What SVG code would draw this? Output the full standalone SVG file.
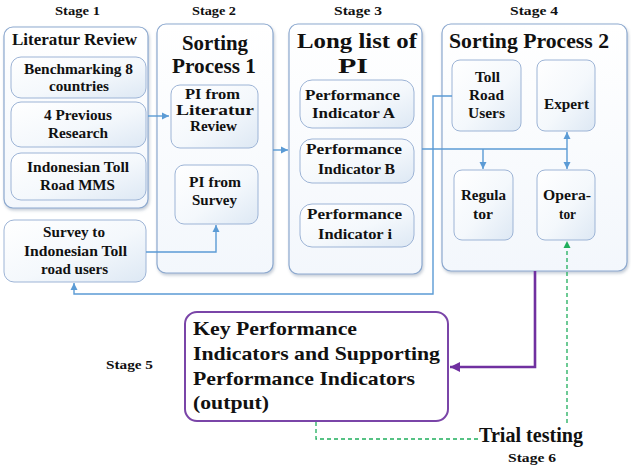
<svg xmlns="http://www.w3.org/2000/svg" width="631" height="466" viewBox="0 0 631 466">
<defs>
<linearGradient id="gOuter" x1="0" y1="0" x2="0" y2="1">
<stop offset="0" stop-color="#ffffff"/><stop offset="1" stop-color="#f3f7fc"/>
</linearGradient>
<linearGradient id="gInner" x1="0" y1="0" x2="1" y2="1">
<stop offset="0" stop-color="#ffffff"/><stop offset="0.55" stop-color="#f4f8fc"/><stop offset="1" stop-color="#dde8f4"/>
</linearGradient>
<filter id="sh" x="-5%" y="-5%" width="115%" height="115%">
<feDropShadow dx="1" dy="2" stdDeviation="1.5" flood-color="#7f8fa6" flood-opacity="0.45"/>
</filter>
<marker id="aB" markerWidth="8" markerHeight="8" refX="7" refY="4" orient="auto" markerUnits="userSpaceOnUse">
<path d="M0,0.5 L7,4 L0,7.5 z" fill="#5b9bd5"/>
</marker>
<marker id="aBs" markerWidth="8" markerHeight="8" refX="1" refY="4" orient="auto" markerUnits="userSpaceOnUse">
<path d="M8,0.5 L1,4 L8,7.5 z" fill="#5b9bd5"/>
</marker>
<marker id="aP" markerWidth="12" markerHeight="12" refX="10" refY="6" orient="auto" markerUnits="userSpaceOnUse">
<path d="M0,1 L10,6 L0,11 z" fill="#7030a0"/>
</marker>
<marker id="aG" markerWidth="8" markerHeight="8" refX="7" refY="4" orient="auto" markerUnits="userSpaceOnUse">
<path d="M0,0.5 L7,4 L0,7.5 z" fill="#1fae5c"/>
</marker>
</defs>
<style>
.outer{fill:url(#gOuter);stroke:#8da9cf;stroke-width:1.2;filter:url(#sh)}
.inner{fill:url(#gInner);stroke:#9db4d6;stroke-width:1}
.st{font-size:12px}
.t14{font-size:14px}
.t16{font-size:16px}
.title{font-size:21px}
.kpi{font-size:19px}
.conn{fill:none;stroke:#5b9bd5;stroke-width:1.4}
.pur{fill:none;stroke:#7030a0;stroke-width:2.6}
.grn{fill:none;stroke:#1fae5c;stroke-width:1.3;stroke-dasharray:4 3}
</style>
<rect width="631" height="466" fill="#ffffff"/>
<g font-family="Liberation Serif, Times New Roman, serif" font-weight="bold" fill="#111111">
<g id="labels">
<text class="st" x="55" y="15" textLength="45" lengthAdjust="spacingAndGlyphs">Stage 1</text>
<text class="st" x="192" y="15" textLength="44" lengthAdjust="spacingAndGlyphs">Stage 2</text>
<text class="st" x="334" y="15" textLength="48" lengthAdjust="spacingAndGlyphs">Stage 3</text>
<text class="st" x="510" y="15" textLength="48" lengthAdjust="spacingAndGlyphs">Stage 4</text>
<text class="st" x="106" y="369" textLength="47" lengthAdjust="spacingAndGlyphs">Stage 5</text>
<text class="st" x="508" y="462" textLength="48" lengthAdjust="spacingAndGlyphs">Stage 6</text>
</g>

<g id="stage1">
<rect class="outer" x="4" y="27" width="144" height="181" rx="9"/>
<text class="t16" x="12" y="45" textLength="125" lengthAdjust="spacingAndGlyphs">Literatur Review</text>
</g>
<g id="benchmarking">
<rect class="inner" x="11" y="57" width="135" height="41" rx="10"/>
<text class="t14" x="24" y="74" textLength="109" lengthAdjust="spacingAndGlyphs">Benchmarking 8</text>
<text class="t14" x="49" y="91" textLength="60" lengthAdjust="spacingAndGlyphs">countries</text>
</g>
<g id="previous">
<rect class="inner" x="11" y="102" width="135" height="45" rx="10"/>
<text class="t14" x="44" y="120" textLength="68" lengthAdjust="spacingAndGlyphs">4 Previous</text>
<text class="t14" x="48" y="138" textLength="60" lengthAdjust="spacingAndGlyphs">Research</text>
</g>
<g id="mms">
<rect class="inner" x="11" y="153" width="135" height="47" rx="10"/>
<text class="t14" x="27" y="172" textLength="102" lengthAdjust="spacingAndGlyphs">Indonesian Toll</text>
<text class="t14" x="40" y="190" textLength="75" lengthAdjust="spacingAndGlyphs">Road MMS</text>
</g>
<g id="survey">
<rect class="inner" x="4" y="220" width="142" height="62" rx="10"/>
<text class="t14" x="43" y="237" textLength="62" lengthAdjust="spacingAndGlyphs">Survey to</text>
<text class="t14" x="24" y="256" textLength="103" lengthAdjust="spacingAndGlyphs">Indonesian Toll</text>
<text class="t14" x="41" y="274" textLength="67" lengthAdjust="spacingAndGlyphs">road users</text>
</g>

<g id="stage2">
<rect class="outer" x="157" y="24" width="116" height="249" rx="9"/>
<text class="title" x="182" y="50" textLength="66" lengthAdjust="spacingAndGlyphs">Sorting</text>
<text class="title" x="172" y="73" textLength="84" lengthAdjust="spacingAndGlyphs">Process 1</text>
</g>
<g id="pi-lit">
<rect class="inner" x="171" y="85" width="87" height="63" rx="9"/>
<text class="t14" x="185" y="99" textLength="55" lengthAdjust="spacingAndGlyphs">PI from</text>
<text class="t14" x="176" y="115" textLength="78" lengthAdjust="spacingAndGlyphs">Literatur</text>
<text class="t14" x="190" y="131" textLength="47" lengthAdjust="spacingAndGlyphs">Review</text>
</g>
<g id="pi-survey">
<rect class="inner" x="175" y="165" width="83" height="59" rx="9"/>
<text class="t14" x="189" y="187" textLength="52" lengthAdjust="spacingAndGlyphs">PI from</text>
<text class="t14" x="192" y="205" textLength="45" lengthAdjust="spacingAndGlyphs">Survey</text>
</g>

<g id="stage3">
<rect class="outer" x="289" y="24" width="133" height="250" rx="9"/>
<text class="title" x="297" y="48" textLength="120" lengthAdjust="spacingAndGlyphs">Long list of</text>
<text class="title" x="338" y="73" textLength="30" lengthAdjust="spacingAndGlyphs">PI</text>
</g>
<g id="pi-a">
<rect class="inner" x="300" y="80" width="114" height="48" rx="12"/>
<text class="t14" x="305" y="100" textLength="95" lengthAdjust="spacingAndGlyphs">Performance</text>
<text class="t14" x="312" y="118" textLength="83" lengthAdjust="spacingAndGlyphs">Indicator A</text>
</g>
<g id="pi-b">
<rect class="inner" x="300" y="139" width="114" height="44" rx="12"/>
<text class="t14" x="306" y="154" textLength="96" lengthAdjust="spacingAndGlyphs">Performance</text>
<text class="t14" x="318" y="174" textLength="77" lengthAdjust="spacingAndGlyphs">Indicator B</text>
</g>
<g id="pi-i">
<rect class="inner" x="300" y="204" width="114" height="43" rx="12"/>
<text class="t14" x="307" y="219" textLength="95" lengthAdjust="spacingAndGlyphs">Performance</text>
<text class="t14" x="318" y="239" textLength="74" lengthAdjust="spacingAndGlyphs">Indicator i</text>
</g>

<g id="stage4">
<rect class="outer" x="442" y="24" width="185" height="247" rx="9"/>
<text class="title" x="449" y="48" textLength="160" lengthAdjust="spacingAndGlyphs">Sorting Process 2</text>
</g>
<g id="toll-users">
<rect class="inner" x="452" y="60" width="69" height="71" rx="8"/>
<text class="t14" x="475" y="82" textLength="25" lengthAdjust="spacingAndGlyphs">Toll</text>
<text class="t14" x="469" y="100" textLength="35" lengthAdjust="spacingAndGlyphs">Road</text>
<text class="t14" x="468" y="118" textLength="37" lengthAdjust="spacingAndGlyphs">Users</text>
</g>
<g id="expert">
<rect class="inner" x="537" y="60" width="58" height="71" rx="8"/>
<text class="t14" x="544" y="109" textLength="45" lengthAdjust="spacingAndGlyphs">Expert</text>
</g>
<g id="regulator">
<rect class="inner" x="454" y="170" width="59" height="70" rx="8"/>
<text class="t14" x="461" y="200" textLength="45" lengthAdjust="spacingAndGlyphs">Regula</text>
<text class="t14" x="473" y="219" textLength="20" lengthAdjust="spacingAndGlyphs">tor</text>
</g>
<g id="operator">
<rect class="inner" x="537" y="170" width="58" height="70" rx="8"/>
<text class="t14" x="543" y="200" textLength="48" lengthAdjust="spacingAndGlyphs">Opera-</text>
<text class="t14" x="559" y="219" textLength="17" lengthAdjust="spacingAndGlyphs">tor</text>
</g>

<g id="kpi">
<rect x="185" y="312" width="263" height="109" rx="12" fill="#ffffff" stroke="#7a45a8" stroke-width="2"/>
<text class="kpi" x="193" y="335" textLength="164" lengthAdjust="spacingAndGlyphs">Key Performance</text>
<text class="kpi" x="193" y="360" textLength="247" lengthAdjust="spacingAndGlyphs">Indicators and Supporting</text>
<text class="kpi" x="193" y="385" textLength="222" lengthAdjust="spacingAndGlyphs">Performance Indicators</text>
<text class="kpi" x="193" y="409" textLength="76" lengthAdjust="spacingAndGlyphs">(output)</text>
</g>

<g id="trial">
<text x="479" y="442" font-size="20" textLength="104" lengthAdjust="spacingAndGlyphs">Trial testing</text>
</g>
</g>

<g id="connectors">
<path class="conn" d="M148,116 H169" marker-end="url(#aB)"/>
<path class="conn" d="M146,252 H216 V225" marker-end="url(#aB)"/>
<path class="conn" d="M273,150 H288" marker-end="url(#aB)"/>
<path class="conn" d="M422,149 H567"/>
<path class="conn" d="M483,149 V169" marker-end="url(#aB)"/>
<path class="conn" d="M567,132 V169" marker-start="url(#aBs)" marker-end="url(#aB)"/>
<path class="conn" d="M452,96 H433 V294 H74 V283" marker-end="url(#aB)"/>
<path class="pur" d="M535,271 V367 H450" marker-end="url(#aP)"/>
<path class="grn" d="M316,422 V439 H478"/>
<path class="grn" d="M567,423 V241" marker-end="url(#aG)"/>
</g>
</svg>
